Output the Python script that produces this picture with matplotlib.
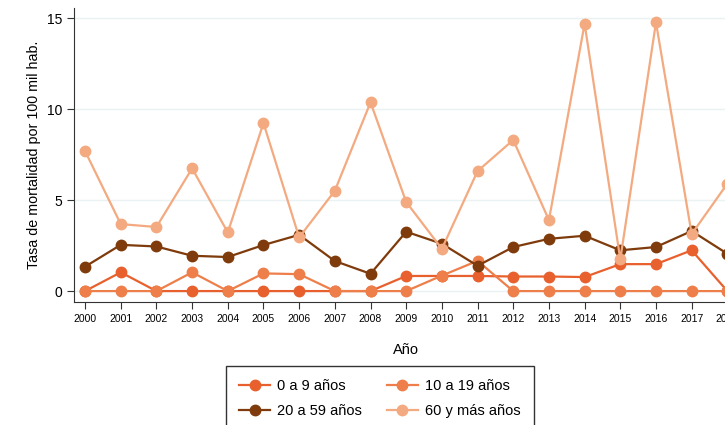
import matplotlib
matplotlib.use('Agg')
import matplotlib.pyplot as plt

# Años y tasas por grupo de edad
years = list(range(2000, 2019))
tasa_0_9 = [0, 1.03, 0, 0, 0, 0, 0, 0, 0, 0.83, 0.83, 0.83, 0.80, 0.80, 0.77, 1.48, 1.48, 2.24, 0]
tasa_10_19 = [0, 0, 0, 1.03, 0, 0.97, 0.93, 0, 0, 0, 0.85, 1.66, 0, 0, 0, 0, 0, 0, 0]
tasa_20_59 = [1.34, 2.54, 2.45, 1.94, 1.87, 2.53, 3.09, 1.65, 0.95, 3.26, 2.60, 1.39, 2.42, 2.87, 3.04, 2.24, 2.42, 3.30, 2.05]
tasa_60 = [7.69, 3.68, 3.52, 6.74, 3.22, 9.23, 2.95, 5.51, 10.37, 4.89, 2.32, 6.59, 8.30, 3.90, 14.69, 1.74, 14.76, 3.13, 5.90]

labels = ['0 a 9 años', '10 a 19 años', '20 a 59 años', '60 y más años']
colors = ['#e8602d', '#ee7f4a', '#7f3b0b', '#f4aa80']

plt.rcParams['font.family'] = ['Liberation Sans', 'DejaVu Sans']

fig = plt.figure(figsize=(7.25, 4.25), dpi=100)
# the original is cropped on the right, so the axes run past the figure edge
ax = fig.add_axes([74 / 725, 1 - 302 / 425, (738.4 - 74) / 725, (302 - 8) / 425])

lines = []
for serie, lab, col in zip([tasa_0_9, tasa_10_19, tasa_20_59, tasa_60], labels, colors):
    ln, = ax.plot(years, serie, color=col, lw=1.6, marker='o', ms=7.5, label=lab)
    lines.append(ln)

ax.set_xlim(1999.69, 2018.31)
ax.set_ylim(-0.6, 15.55)
ax.set_xticks(years)
ax.set_xticklabels([str(y) for y in years], fontsize=7.5)
ax.set_yticks([0, 5, 10, 15])
ax.tick_params(axis='y', labelsize=10, length=5, color='#333333')
ax.tick_params(axis='x', length=5, color='#333333')
ax.grid(axis='y', color='#eaf2f3', lw=1)
ax.set_axisbelow(True)
for s in ['top', 'right']:
    ax.spines[s].set_visible(False)
for s in ['left', 'bottom']:
    ax.spines[s].set_color('#333333')

ax.set_ylabel('Tasa de mortalidad por 100 mil hab.', fontsize=10.3)
ax.set_xlabel('Año', fontsize=10.5, labelpad=14)

# legend filled row by row: (0-9, 10-19) then (20-59, 60+)
order = [0, 2, 1, 3]
leg = fig.legend([lines[i] for i in order], [labels[i] for i in order],
                 loc='upper center', bbox_to_anchor=(380 / 725, 1 - 366 / 425), ncol=2,
                 fontsize=10.5, frameon=True, fancybox=False, edgecolor='black',
                 handlelength=2.1, handletextpad=0.5, columnspacing=1.7,
                 borderpad=0.9, labelspacing=0.75, borderaxespad=0)
leg.get_frame().set_linewidth(1)

fig.savefig('out.png', dpi=100)
